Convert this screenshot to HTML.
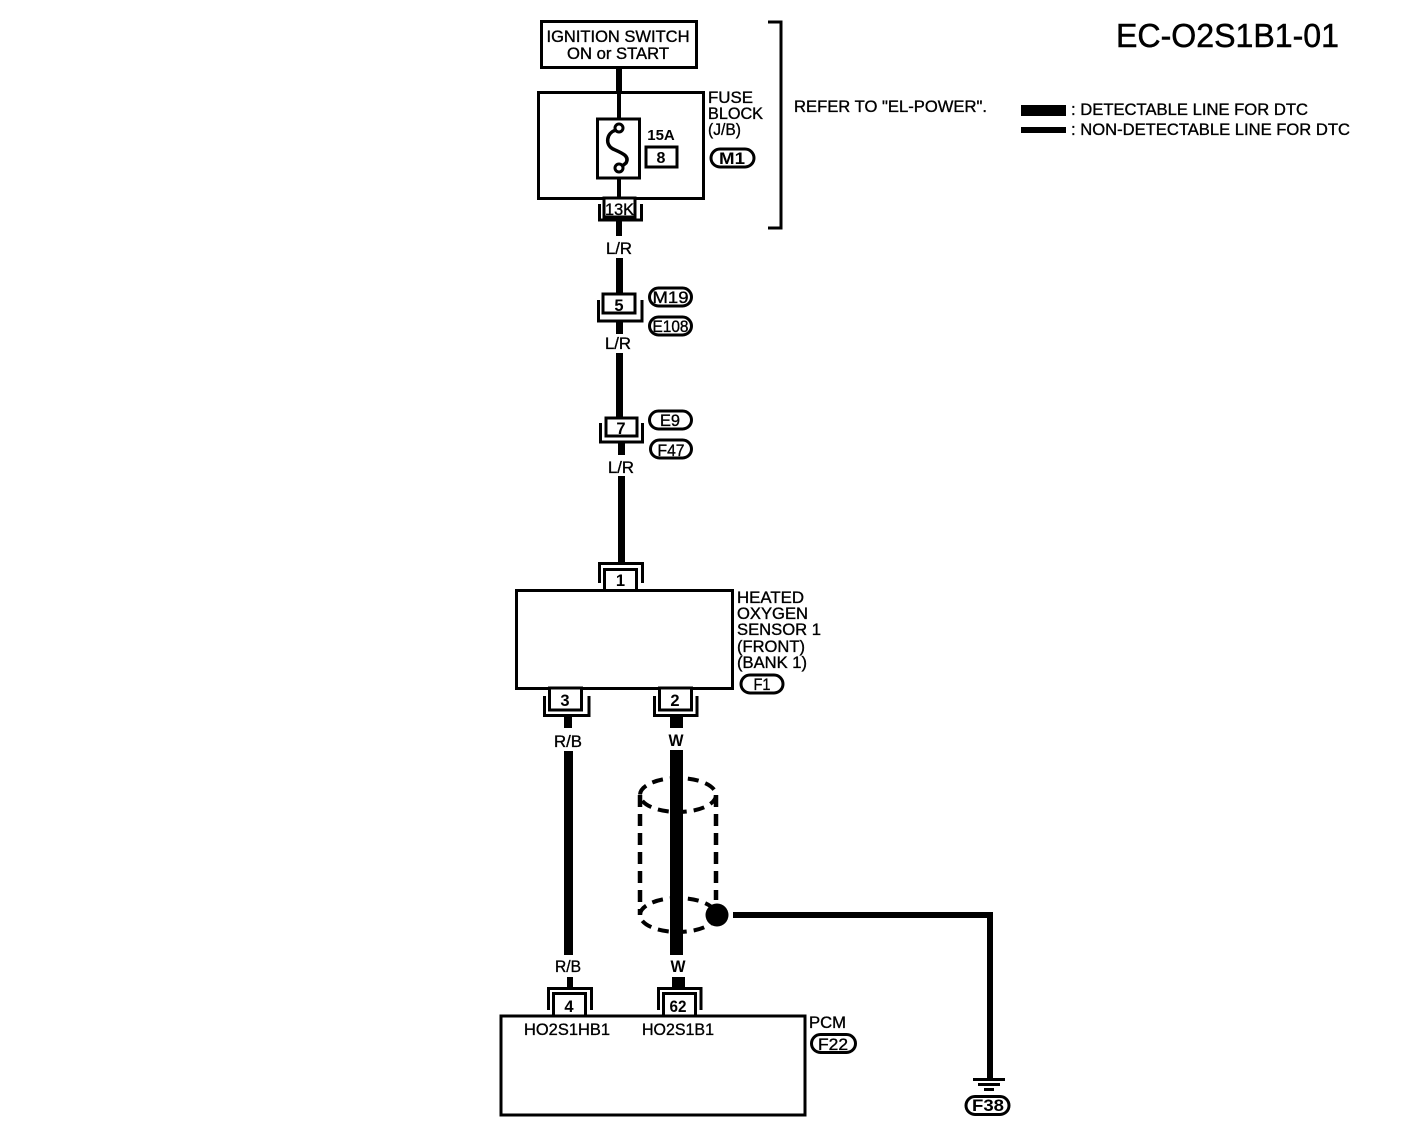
<!DOCTYPE html>
<html><head><meta charset="utf-8"><style>
html,body{margin:0;padding:0;background:#fff}
svg{display:block}
text{font-family:"Liberation Sans",sans-serif;fill:#000;stroke:#000;stroke-width:.35;font-size:16.5px}
.m{text-anchor:middle}
.n{fill:none;stroke:#000;stroke-width:3}
.b{fill:#fff;stroke:#000;stroke-width:3}
.pl{fill:#fff;stroke:#000;stroke-width:3}
</style></head><body>
<svg width="1408" height="1140" viewBox="0 0 1408 1140" xmlns="http://www.w3.org/2000/svg">
<!-- top -->
<rect class="b" x="541.5" y="21.5" width="155" height="46"/>
<text class="m" x="618" y="42" textLength="143" lengthAdjust="spacingAndGlyphs">IGNITION SWITCH</text>
<text class="m" x="618" y="59" textLength="102" lengthAdjust="spacingAndGlyphs">ON or START</text>
<rect x="616" y="68" width="6" height="25"/>
<rect class="b" x="538.5" y="92.5" width="165" height="106"/>
<rect x="617" y="92" width="4" height="27"/>
<rect class="b" x="597.5" y="119" width="42" height="59"/>
<rect x="617" y="178" width="4" height="22"/>
<path d="M616 130 C606 133 605 145 613 149 C622 153 630 156 626 163 L621 167" fill="none" stroke="#000" stroke-width="3.5"/>
<circle cx="619" cy="128" r="4" fill="#fff" stroke="#000" stroke-width="3"/>
<circle cx="619" cy="168" r="4" fill="#fff" stroke="#000" stroke-width="3"/>
<text class="m" x="661" y="140" style="font-size:15px;font-weight:bold;stroke-width:0">15A</text>
<rect class="b" x="646" y="147" width="31" height="20"/>
<text class="m" x="661" y="163" style="font-size:16px;font-weight:bold;stroke-width:0">8</text>
<text x="708" y="103" textLength="45" lengthAdjust="spacingAndGlyphs">FUSE</text>
<text x="708" y="119" textLength="55" lengthAdjust="spacingAndGlyphs">BLOCK</text>
<text x="708" y="135" textLength="33" lengthAdjust="spacingAndGlyphs">(J/B)</text>
<rect class="pl" x="711" y="149" width="43" height="18" rx="9"/>
<text class="m" x="732" y="164" textLength="26" lengthAdjust="spacingAndGlyphs" style="font-weight:bold;stroke-width:0">M1</text>
<!-- 13K -->
<path class="n" d="M599.5 204V220H641.5V204"/>
<rect class="b" x="604" y="198" width="31" height="19"/>
<text class="m" x="619.5" y="215" textLength="29" lengthAdjust="spacingAndGlyphs">13K</text>
<rect x="616" y="221" width="6" height="15"/>
<text class="m" x="619" y="254" textLength="26" lengthAdjust="spacingAndGlyphs">L/R</text>
<rect x="616" y="258" width="7" height="36"/>
<!-- 5 -->
<path class="n" d="M598.5 300V321H642V300"/>
<rect class="b" x="603" y="294" width="32" height="19"/>
<text class="m" x="619" y="311" style="stroke-width:0;font-weight:bold">5</text>
<rect x="616" y="322" width="7" height="12"/>
<text class="m" x="618" y="349" textLength="26" lengthAdjust="spacingAndGlyphs">L/R</text>
<rect x="616" y="353" width="7" height="64"/>
<rect class="pl" x="649.5" y="288" width="42" height="18" rx="9"/>
<text class="m" x="670.5" y="303" textLength="36" lengthAdjust="spacingAndGlyphs">M19</text>
<rect class="pl" x="649.5" y="317" width="42" height="18" rx="9"/>
<text class="m" x="670.5" y="332" textLength="36" lengthAdjust="spacingAndGlyphs">E108</text>
<!-- 7 -->
<path class="n" d="M600.5 423V442H642.5V423"/>
<rect class="b" x="606" y="418" width="31" height="18"/>
<text class="m" x="621" y="434" style="stroke-width:0;font-weight:bold">7</text>
<rect x="618" y="443" width="7" height="12"/>
<text class="m" x="621" y="473" textLength="26" lengthAdjust="spacingAndGlyphs">L/R</text>
<rect x="618" y="476" width="7" height="86"/>
<rect class="pl" x="649.5" y="411" width="42" height="18" rx="9"/>
<text class="m" x="670" y="426" textLength="20" lengthAdjust="spacingAndGlyphs">E9</text>
<rect class="pl" x="650.5" y="440" width="41" height="18" rx="9"/>
<text class="m" x="671" y="456" textLength="27" lengthAdjust="spacingAndGlyphs">F47</text>
<!-- 1 + sensor -->
<path class="n" d="M599.5 583V563.5H642.5V583"/>
<rect class="b" x="604.5" y="569.5" width="32" height="22"/>
<text class="m" x="620.5" y="586" style="stroke-width:0;font-weight:bold">1</text>
<rect class="b" x="516.5" y="590.5" width="216" height="98"/>
<text x="737" y="603" textLength="67" lengthAdjust="spacingAndGlyphs">HEATED</text>
<text x="737" y="619" textLength="71" lengthAdjust="spacingAndGlyphs">OXYGEN</text>
<text x="737" y="635" textLength="84" lengthAdjust="spacingAndGlyphs">SENSOR 1</text>
<text x="737" y="652" textLength="68" lengthAdjust="spacingAndGlyphs">(FRONT)</text>
<text x="737" y="668" textLength="70" lengthAdjust="spacingAndGlyphs">(BANK 1)</text>
<rect class="pl" x="741" y="675" width="42" height="18" rx="9"/>
<text class="m" x="762" y="690" textLength="17" lengthAdjust="spacingAndGlyphs">F1</text>
<!-- 3, 2 -->
<path class="n" d="M544.5 696V715.5H589V696"/>
<rect class="b" x="549.5" y="688" width="32" height="22"/>
<text class="m" x="565" y="706" style="stroke-width:0;font-weight:bold">3</text>
<path class="n" d="M654.5 696V715.5H697V696"/>
<rect class="b" x="659.5" y="688" width="32" height="22"/>
<text class="m" x="675" y="706" style="stroke-width:0;font-weight:bold">2</text>
<rect x="564" y="717" width="8" height="11"/>
<rect x="670" y="717" width="13" height="11"/>
<text class="m" x="568" y="747" textLength="28" lengthAdjust="spacingAndGlyphs">R/B</text>
<text class="m" x="676" y="746" textLength="15" lengthAdjust="spacingAndGlyphs" style="font-weight:bold;stroke-width:0">W</text>
<rect x="564" y="751" width="9" height="204"/>
<rect x="670" y="750" width="13" height="205"/>
<!-- shield -->
<ellipse cx="678" cy="795" rx="38" ry="17" fill="none" stroke="#000" stroke-width="4" stroke-dasharray="11 7"/>
<ellipse cx="678" cy="915" rx="38" ry="17" fill="none" stroke="#000" stroke-width="4" stroke-dasharray="11 7"/>
<path d="M640 795V915M716 795V900" fill="none" stroke="#000" stroke-width="4.5" stroke-dasharray="12 7"/>
<circle cx="717" cy="915" r="11.5"/>
<path d="M733 915H990V1078" fill="none" stroke="#000" stroke-width="6"/>
<rect x="973" y="1078" width="32" height="3"/>
<rect x="978" y="1083" width="22" height="3"/>
<rect x="984" y="1088" width="10" height="3"/>
<rect class="pl" x="966" y="1096.5" width="43" height="18" rx="9"/>
<text class="m" x="988" y="1111" textLength="32" lengthAdjust="spacingAndGlyphs" style="font-weight:bold;stroke-width:0">F38</text>
<!-- PCM -->
<text class="m" x="568" y="972" textLength="26" lengthAdjust="spacingAndGlyphs">R/B</text>
<text class="m" x="678" y="972" textLength="15" lengthAdjust="spacingAndGlyphs" style="font-weight:bold;stroke-width:0">W</text>
<rect x="567" y="977" width="6" height="10"/>
<rect x="672" y="977" width="13" height="10"/>
<path class="n" d="M548.5 1010V988.5H591.5V1010"/>
<path class="n" d="M658.5 1010V988.5H701V1010"/>
<rect class="b" x="553.5" y="993.5" width="32" height="23"/>
<text class="m" x="569" y="1012" style="stroke-width:0;font-weight:bold">4</text>
<rect class="b" x="663.5" y="993.5" width="32" height="23"/>
<text class="m" x="678" y="1012" textLength="17" lengthAdjust="spacingAndGlyphs" style="stroke-width:0;font-weight:bold">62</text>
<rect class="b" x="501" y="1016" width="304" height="99"/>
<text x="524" y="1035" textLength="86" lengthAdjust="spacingAndGlyphs">HO2S1HB1</text>
<text x="642" y="1035" textLength="72" lengthAdjust="spacingAndGlyphs">HO2S1B1</text>
<text x="809" y="1028" textLength="37" lengthAdjust="spacingAndGlyphs">PCM</text>
<rect class="pl" x="811.5" y="1034.5" width="44" height="18" rx="9"/>
<text class="m" x="833" y="1050" textLength="30" lengthAdjust="spacingAndGlyphs">F22</text>
<!-- right -->
<path d="M768 22H781V228H768" fill="none" stroke="#000" stroke-width="3"/>
<text x="794" y="112" textLength="193" lengthAdjust="spacingAndGlyphs">REFER TO "EL-POWER".</text>
<text x="1116" y="47" textLength="223" lengthAdjust="spacingAndGlyphs" style="font-size:33px;stroke-width:.5">EC-O2S1B1-01</text>
<rect x="1021" y="105" width="45" height="11"/>
<rect x="1021" y="127" width="45" height="6"/>
<text x="1071" y="115" textLength="237" lengthAdjust="spacingAndGlyphs">: DETECTABLE LINE FOR DTC</text>
<text x="1071" y="135" textLength="279" lengthAdjust="spacingAndGlyphs">: NON-DETECTABLE LINE FOR DTC</text>
</svg>
</body></html>
